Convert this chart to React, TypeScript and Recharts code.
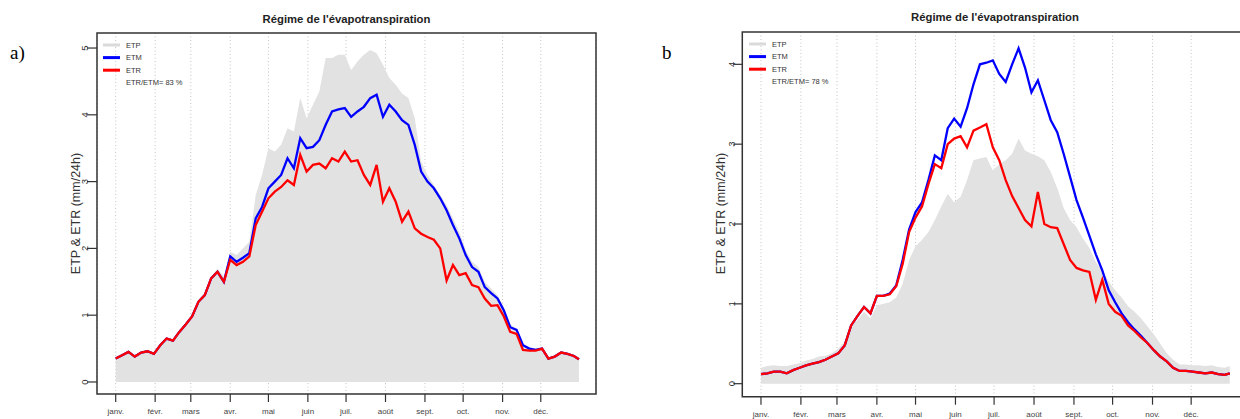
import React from 'react';
import { ComposedChart, Area, Line, XAxis, YAxis, CartesianGrid, ReferenceArea } from 'recharts';

// jour de l'année (pas de 5 jours)
const DAYS = [
  0, 5, 10, 15, 20, 25, 30, 35, 40, 45,
  50, 55, 60, 65, 70, 75, 80, 85, 90, 95,
  100, 105, 110, 115, 120, 125, 130, 135, 140, 145,
  150, 155, 160, 165, 170, 175, 180, 185, 190, 195,
  200, 205, 210, 215, 220, 225, 230, 235, 240, 245,
  250, 255, 260, 265, 270, 275, 280, 285, 290, 295,
  300, 305, 310, 315, 320, 325, 330, 335, 340, 345,
  350, 355, 360, 364,
];

const MONTH_DAYS = [0, 31, 59, 90, 120, 151, 181, 212, 243, 273, 304, 334];
const MONTH_LABELS = ['janv.', 'févr.', 'mars', 'avr.', 'mai', 'juin', 'juil.', 'août', 'sept.', 'oct.', 'nov.', 'déc.'];

// a)
const ETP_A = [
  0.37, 0.42, 0.47, 0.40, 0.46, 0.48, 0.44, 0.57, 0.67, 0.64,
  0.77, 0.88, 1.00, 1.23, 1.33, 1.58, 1.70, 1.58, 1.95, 1.90,
  2.00, 2.10, 2.80, 3.10, 3.50, 3.45, 3.55, 3.80, 3.75, 4.25,
  3.95, 4.15, 4.35, 4.85, 4.85, 4.90, 4.90, 4.67, 4.80, 4.90,
  4.97, 4.92, 4.75, 4.55, 4.45, 4.32, 4.25, 3.95, 3.30, 3.10,
  2.95, 2.80, 2.65, 2.45, 2.25, 1.98, 1.80, 1.72, 1.50, 1.40,
  1.30, 1.12, 0.86, 0.80, 0.58, 0.52, 0.50, 0.52, 0.37, 0.40,
  0.46, 0.44, 0.41, 0.36,
];
const ETM_A = [
  0.35, 0.40, 0.45, 0.38, 0.44, 0.46, 0.42, 0.55, 0.65, 0.62,
  0.75, 0.86, 0.98, 1.20, 1.30, 1.55, 1.65, 1.50, 1.88, 1.80,
  1.86, 1.93, 2.45, 2.62, 2.90, 3.00, 3.10, 3.35, 3.20, 3.65,
  3.50, 3.52, 3.62, 3.85, 4.05, 4.08, 4.10, 3.97, 4.05, 4.12,
  4.25, 4.30, 3.97, 4.15, 4.05, 3.92, 3.85, 3.55, 3.15, 3.00,
  2.90, 2.75, 2.57, 2.35, 2.15, 1.90, 1.72, 1.65, 1.42, 1.33,
  1.25, 1.07, 0.82, 0.78, 0.55, 0.50, 0.48, 0.50, 0.35, 0.38,
  0.44, 0.42, 0.39, 0.34,
];
const ETR_A = [
  0.35, 0.40, 0.45, 0.38, 0.44, 0.46, 0.42, 0.55, 0.65, 0.62,
  0.75, 0.86, 0.98, 1.20, 1.30, 1.55, 1.65, 1.50, 1.83, 1.75,
  1.80, 1.88, 2.35, 2.55, 2.75, 2.85, 2.92, 3.02, 2.95, 3.40,
  3.15, 3.25, 3.27, 3.20, 3.35, 3.30, 3.45, 3.30, 3.32, 3.10,
  2.95, 3.25, 2.70, 2.90, 2.70, 2.40, 2.55, 2.30, 2.22, 2.17,
  2.13, 2.00, 1.52, 1.75, 1.60, 1.63, 1.45, 1.42, 1.25, 1.14,
  1.15, 0.98, 0.75, 0.72, 0.48, 0.47, 0.47, 0.50, 0.35, 0.38,
  0.44, 0.42, 0.39, 0.34,
];

// b
const ETP_B = [
  0.20, 0.22, 0.23, 0.22, 0.22, 0.24, 0.26, 0.29, 0.31, 0.34,
  0.35, 0.38, 0.44, 0.52, 0.72, 0.80, 0.90, 0.82, 0.98, 1.00,
  1.02, 1.08, 1.25, 1.55, 1.72, 1.80, 1.90, 2.05, 2.22, 2.38,
  2.27, 2.34, 2.55, 2.80, 2.82, 2.84, 2.67, 2.75, 2.80, 2.88,
  3.07, 2.92, 2.88, 2.85, 2.80, 2.65, 2.45, 2.20, 2.05, 1.96,
  1.82, 1.70, 1.52, 1.42, 1.28, 1.17, 1.08, 0.97, 0.90, 0.82,
  0.72, 0.62, 0.50, 0.38, 0.30, 0.24, 0.24, 0.23, 0.23, 0.22,
  0.23, 0.21, 0.20, 0.22,
];
const ETM_B = [
  0.12, 0.13, 0.15, 0.15, 0.13, 0.17, 0.20, 0.23, 0.25, 0.27,
  0.30, 0.34, 0.38, 0.48, 0.73, 0.85, 0.96, 0.88, 1.10, 1.10,
  1.13, 1.23, 1.55, 1.93, 2.15, 2.27, 2.55, 2.86, 2.80, 3.20,
  3.32, 3.22, 3.45, 3.75, 4.00, 4.02, 4.05, 3.88, 3.78, 4.00,
  4.20, 3.96, 3.65, 3.80, 3.55, 3.30, 3.15, 2.88, 2.59, 2.30,
  2.08, 1.85, 1.62, 1.42, 1.17, 1.02, 0.88, 0.77, 0.68, 0.60,
  0.51, 0.42, 0.34, 0.28, 0.20, 0.16, 0.16, 0.15, 0.14, 0.13,
  0.14, 0.12, 0.11, 0.13,
];
const ETR_B = [
  0.12, 0.13, 0.15, 0.15, 0.13, 0.17, 0.20, 0.23, 0.25, 0.27,
  0.30, 0.34, 0.38, 0.48, 0.73, 0.85, 0.96, 0.88, 1.10, 1.10,
  1.12, 1.22, 1.50, 1.90, 2.08, 2.22, 2.50, 2.75, 2.70, 3.00,
  3.07, 3.10, 2.96, 3.17, 3.21, 3.25, 2.96, 2.80, 2.55, 2.35,
  2.20, 2.05, 1.97, 2.40, 2.00, 1.96, 1.95, 1.75, 1.55, 1.45,
  1.42, 1.40, 1.05, 1.30, 1.00, 0.90, 0.85, 0.73, 0.66, 0.58,
  0.51, 0.42, 0.34, 0.28, 0.20, 0.16, 0.16, 0.15, 0.14, 0.13,
  0.14, 0.12, 0.11, 0.13,
];

const SANS = "'Liberation Sans', Arial, Helvetica, sans-serif";
const SERIF = "'Liberation Serif', 'Times New Roman', serif";
const GREY = '#e2e2e2';

const buildData = (etp: number[], etm: number[], etr: number[]) =>
  DAYS.map((day, i) => ({ day, etp: etp[i], etm: etm[i], etr: etr[i] }));

type PanelProps = {
  left: number;
  data: { day: number; etp: number; etm: number; etr: number }[];
  xDomain: [number, number];
  yDomain: [number, number];
  yTicks: number[];
  axisWidth: number;
  marginTop: number;
  marginRight: number;
  xAxisHeight: number;
  yTickSize: number;
};

const Panel = ({ left, data, xDomain, yDomain, yTicks, axisWidth, marginTop, marginRight, xAxisHeight, yTickSize }: PanelProps) => (
  <div style={{ position: 'absolute', left, top: 0 }}>
    <ComposedChart
      width={620}
      height={419}
      data={data}
      margin={{ top: marginTop, right: marginRight, bottom: 0, left: 0 }}
    >
      <CartesianGrid horizontal={false} stroke="#c4c4c4" strokeDasharray="1 2.5" />
      <XAxis
        type="number"
        dataKey="day"
        domain={xDomain}
        allowDataOverflow
        ticks={MONTH_DAYS}
        interval={0}
        height={xAxisHeight}
        axisLine={false}
        tickSize={8}
        tickMargin={0}
        tickLine={{ stroke: '#333', strokeWidth: 1.2 }}
        tick={(p: any) => (
          <text x={p.x} y={p.y + 12} textAnchor="middle" fontSize={8} fill="#444" fontFamily={SANS}>
            {MONTH_LABELS[MONTH_DAYS.indexOf(p.payload.value)]}
          </text>
        )}
      />
      <YAxis
        type="number"
        domain={yDomain}
        allowDataOverflow
        ticks={yTicks}
        interval={0}
        width={axisWidth}
        axisLine={false}
        tickSize={yTickSize}
        tickMargin={0}
        tickLine={{ stroke: '#333', strokeWidth: 1.2 }}
        tick={(p: any) => (
          <text
            x={p.x + 1.5}
            y={p.y}
            transform={`rotate(-90 ${p.x + 1.5} ${p.y})`}
            textAnchor="middle"
            fontSize={9.5}
            fill="#333"
            fontFamily={SANS}
          >
            {p.payload.value}
          </text>
        )}
      />
      <Area
        type="linear"
        dataKey="etp"
        baseValue={0}
        stroke="none"
        fill={GREY}
        fillOpacity={1}
        isAnimationActive={false}
      />
      <Line type="linear" dataKey="etm" stroke="#0000ff" strokeWidth={2.3} dot={false} isAnimationActive={false} />
      <Line type="linear" dataKey="etr" stroke="#ff0000" strokeWidth={2.3} dot={false} isAnimationActive={false} />
      <ReferenceArea
        x1={xDomain[0]}
        x2={xDomain[1]}
        y1={yDomain[0]}
        y2={yDomain[1]}
        fill="none"
        stroke="#333"
        strokeWidth={1.5}
        ifOverflow="visible"
      />
    </ComposedChart>
  </div>
);

const Legend = ({ x, y, ratio }: { x: number; y: number; ratio: string }) => {
  const rows = [
    { label: 'ETP', color: '#dadada' },
    { label: 'ETM', color: '#0000ff' },
    { label: 'ETR', color: '#ff0000' },
  ];
  return (
    <g fontFamily={SANS} fontSize={7.5} fill="#333">
      {rows.map((r, i) => (
        <g key={r.label}>
          <line x1={x} x2={x + 17} y1={y + i * 12.6} y2={y + i * 12.6} stroke={r.color} strokeWidth={3} />
          <text x={x + 23} y={y + i * 12.6 + 2.7}>{r.label}</text>
        </g>
      ))}
      <text x={x + 23} y={y + 37 + 2.7}>{`ETR/ETM= ${ratio} %`}</text>
    </g>
  );
};

export default function App() {
  const dataA = buildData(ETP_A, ETM_A, ETR_A);
  const dataB = buildData(ETP_B, ETM_B, ETR_B);
  return (
    <div style={{ position: 'fixed', left: 0, top: 0, width: 1240, height: 419, overflow: 'hidden', background: '#fff' }}>
      <Panel
        left={0}
        data={dataA}
        xDomain={[-14.7, 377.4]}
        yDomain={[-0.18, 5.225]}
        yTicks={[0, 1, 2, 3, 4, 5]}
        axisWidth={97}
        marginTop={33}
        marginRight={24}
        xAxisHeight={25}
        yTickSize={10}
      />
      <Panel
        left={650}
        data={dataB}
        xDomain={[-14.5, 378.6]}
        yDomain={[-0.163, 4.405]}
        yTicks={[0, 1, 2, 3, 4]}
        axisWidth={92.3}
        marginTop={32}
        marginRight={21.4}
        xAxisHeight={22.3}
        yTickSize={9}
      />
      <svg width={1240} height={419} style={{ position: 'absolute', left: 0, top: 0, pointerEvents: 'none' }}>
        <text x={10} y={59} fontFamily={SERIF} fontSize={19} fill="#000">a)</text>
        <text x={662} y={58.5} fontFamily={SERIF} fontSize={19} fill="#000">b</text>

        <text x={346.5} y={22.5} textAnchor="middle" fontFamily={SANS} fontWeight="bold" fontSize={11.3} fill="#222">
          Régime de l'évapotranspiration
        </text>
        <text x={995} y={21} textAnchor="middle" fontFamily={SANS} fontWeight="bold" fontSize={11.3} fill="#222">
          Régime de l'évapotranspiration
        </text>

        <text x={80} y={213.5} transform="rotate(-90 80 213.5)" textAnchor="middle" fontFamily={SANS} fontSize={12.5} fill="#333">
          ETP &amp; ETR (mm/24h)
        </text>
        <text x={725} y={213.5} transform="rotate(-90 725 213.5)" textAnchor="middle" fontFamily={SANS} fontSize={12.5} fill="#333">
          ETP &amp; ETR (mm/24h)
        </text>

        <Legend x={103} y={45} ratio="83" />
        <Legend x={749} y={44} ratio="78" />
      </svg>
    </div>
  );
}
